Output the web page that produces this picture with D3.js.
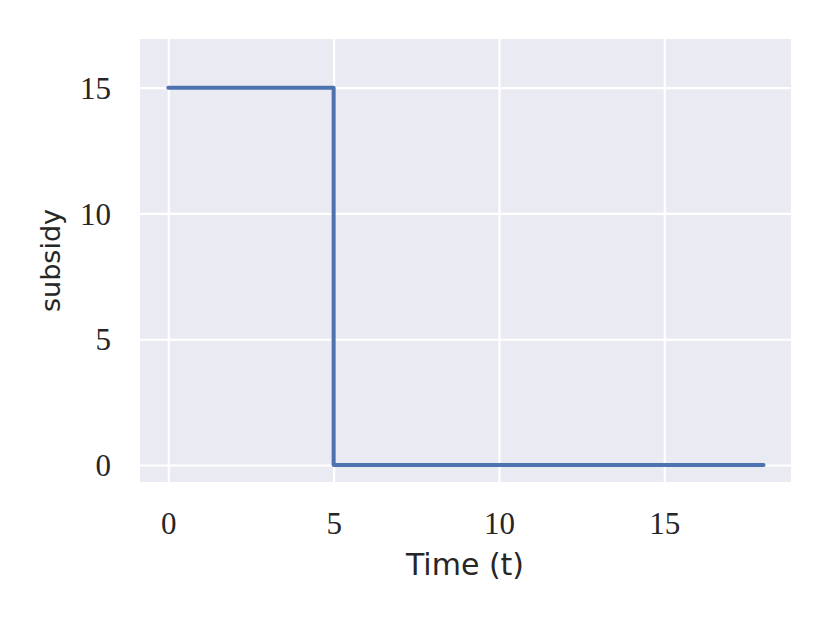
<!DOCTYPE html>
<html><head><meta charset="utf-8">
<script src="https://cdn.jsdelivr.net/npm/d3@7"></script>
<style>body{margin:0;background:#fff}</style>
</head><body>
<svg id="c" width="830" height="623"></svg>
<script>
const timeSteps = [0, 5, 5, 18];
const subsidy = [15, 15, 0, 0];
const xTicks = [0, 5, 10, 15];
const yTicks = [0, 5, 10, 15];
const xLabel = "Time (t)";
const yLabel = "subsidy";

const svg = d3.select("#c");
const L = 140, R = 791, T = 39, B = 482;
const x = d3.scaleLinear().domain([0, 15]).range([168.3, 664.3]);
const y = d3.scaleLinear().domain([0, 15]).range([465, 87.7]);

svg.append("rect").attr("x", L).attr("y", T).attr("width", R - L).attr("height", B - T).attr("fill", "#eaeaf2");

const gx = svg.append("g").attr("transform", `translate(0,${B})`)
  .call(d3.axisBottom(x).tickValues(xTicks).tickSize(-(B - T)).tickPadding(0).tickFormat(d3.format("d")));
const gy = svg.append("g").attr("transform", `translate(${L},0)`)
  .call(d3.axisLeft(y).tickValues(yTicks).tickSize(-(R - L)).tickPadding(0).tickFormat(d3.format("d")));
[gx, gy].forEach(g => {
  g.select(".domain").remove();
  g.selectAll(".tick line").attr("stroke", "#fff").attr("stroke-width", 2.2);
  g.selectAll(".tick text").attr("fill", "#262626").style("font-family", "'Liberation Serif', serif").style("font-size", "31px");
});
gx.selectAll(".tick text").attr("y", 52).attr("dy", "0");
gy.selectAll(".tick text").attr("x", -29).attr("dy", "0.34em").attr("text-anchor", "end");

const line = d3.line().x((d, i) => x(timeSteps[i])).y(d => y(d));
svg.append("path").datum(subsidy).attr("d", line).attr("fill", "none")
  .attr("stroke", "#4c72b0").attr("stroke-width", 4).attr("stroke-linecap", "round").attr("stroke-linejoin", "round");

svg.append("text").attr("x", 465).attr("y", 575).attr("text-anchor", "middle")
  .style("font-family", "'DejaVu Sans', sans-serif").style("font-size", "30px").attr("fill", "#262626").text(xLabel);
svg.append("text").attr("transform", `translate(60,${(T + B) / 2}) rotate(-90)`).attr("text-anchor", "middle")
  .style("font-family", "'DejaVu Sans', sans-serif").style("font-size", "27px").attr("fill", "#262626").text(yLabel);
</script>
</body></html>
